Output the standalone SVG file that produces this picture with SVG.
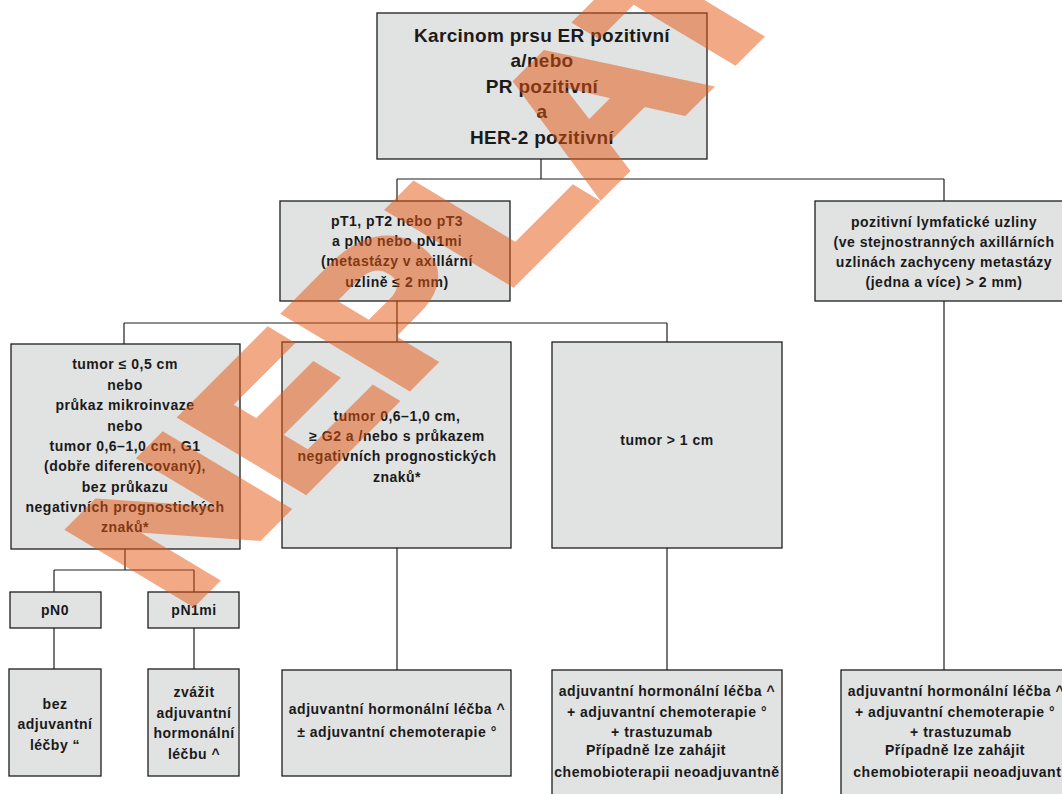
<svg xmlns="http://www.w3.org/2000/svg" width="1062" height="794" viewBox="0 0 1062 794">
<style>
.box{fill:#e1e2e2;stroke:#1e1e1e;stroke-width:1.3}
.t{font-family:"Liberation Sans",Arial,sans-serif;font-weight:bold;font-size:14px;fill:#1a1a1a;text-anchor:middle;letter-spacing:0.5px}
.h{font-size:19px;letter-spacing:0.3px}
.c{fill:none;stroke:#1e1e1e;stroke-width:1.2}
.wm{font-family:"Liberation Sans",Arial,sans-serif;font-weight:bold;fill:#e5550f;stroke:#e5550f;stroke-width:9;stroke-linejoin:miter;opacity:0.5}
</style>
<rect width="1062" height="794" fill="#ffffff"/>
<g id="connectors">
<path class="c" d="M541,159V179M397,179H944M397,179V201M944,179V201M397,301V323M124,323H667M124,323V344M397,323V342M667,323V342M125,549V570M54,570H194M54,570V592M194,570V592M54,628V669M194,628V669M397,548V670M667,548V670M944,301V670"/>
</g>
<g id="n-root">
<rect class="box" x="377" y="13" width="330" height="146"/>
<text class="t h" x="542" y="42">Karcinom prsu ER pozitivní</text>
<text class="t h" x="542" y="67">a/nebo</text>
<text class="t h" x="542" y="93">PR pozitivní</text>
<text class="t h" x="542" y="118">a</text>
<text class="t h" x="542" y="144">HER-2 pozitivní</text>
</g>
<g id="n-pt">
<rect class="box" x="280" y="201" width="230" height="100"/>
<text class="t" x="397" y="226">pT1, pT2 nebo pT3</text>
<text class="t" x="397" y="246">a pN0 nebo pN1mi</text>
<text class="t" x="397" y="266">(metastázy v axillární</text>
<text class="t" x="397" y="287">uzlině ≤ 2 mm)</text>
</g>
<g id="n-lymf">
<rect class="box" x="815" y="201" width="258" height="100"/>
<text class="t" x="944" y="227">pozitivní lymfatické uzliny</text>
<text class="t" x="944" y="247">(ve stejnostranných axillárních</text>
<text class="t" x="944" y="267">uzlinách zachyceny metastázy</text>
<text class="t" x="944" y="287">(jedna a více) &gt; 2 mm)</text>
</g>
<g id="n-small">
<rect class="box" x="11" y="344" width="229" height="205"/>
<text class="t" x="125" y="369">tumor ≤ 0,5 cm</text>
<text class="t" x="125" y="389.5">nebo</text>
<text class="t" x="125" y="410">průkaz mikroinvaze</text>
<text class="t" x="125" y="430.5">nebo</text>
<text class="t" x="125" y="451">tumor 0,6–1,0 cm, G1</text>
<text class="t" x="125" y="471">(dobře diferencovaný),</text>
<text class="t" x="125" y="491.5">bez průkazu</text>
<text class="t" x="125" y="512">negativních prognostických</text>
<text class="t" x="125" y="532">znaků*</text>
</g>
<g id="n-mid">
<rect class="box" x="282" y="342" width="229" height="206"/>
<text class="t" x="397" y="421">tumor 0,6–1,0 cm,</text>
<text class="t" x="397" y="441">≥ G2 a /nebo s průkazem</text>
<text class="t" x="397" y="461">negativních prognostických</text>
<text class="t" x="397" y="482">znaků*</text>
</g>
<g id="n-big">
<rect class="box" x="552" y="342" width="230" height="206"/>
<text class="t" x="667" y="445">tumor &gt; 1 cm</text>
</g>
<g id="n-pn0">
<rect class="box" x="10" y="592" width="91" height="36"/>
<text class="t" x="55" y="615">pN0</text>
</g>
<g id="n-pn1mi">
<rect class="box" x="148" y="592" width="91" height="36"/>
<text class="t" x="194" y="615">pN1mi</text>
</g>
<g id="n-bez">
<rect class="box" x="9" y="669" width="92" height="107"/>
<text class="t" x="55" y="709">bez</text>
<text class="t" x="55" y="729">adjuvantní</text>
<text class="t" x="55" y="750">léčby “</text>
</g>
<g id="n-zvazit">
<rect class="box" x="148" y="669" width="91" height="107"/>
<text class="t" x="194" y="697">zvážit</text>
<text class="t" x="194" y="718">adjuvantní</text>
<text class="t" x="194" y="738">hormonální</text>
<text class="t" x="194" y="759">léčbu ^</text>
</g>
<g id="n-adj2">
<rect class="box" x="282" y="670" width="229" height="106"/>
<text class="t" x="397" y="714">adjuvantní hormonální léčba ^</text>
<text class="t" x="397" y="737">± adjuvantní chemoterapie °</text>
</g>
<g id="n-adj3">
<rect class="box" x="552" y="670" width="230" height="140"/>
<text class="t" x="667" y="696">adjuvantní hormonální léčba ^</text>
<text class="t" x="667" y="717">+ adjuvantní chemoterapie °</text>
<text class="t" x="662" y="737">+ trastuzumab</text>
<text class="t" x="656" y="755">Případně lze zahájit</text>
<text class="t" x="667" y="777">chemobioterapii neoadjuvantně</text>
</g>
<g id="n-adj4">
<rect class="box" x="841" y="670" width="250" height="140"/>
<text class="t" x="956" y="696">adjuvantní hormonální léčba ^</text>
<text class="t" x="955" y="717">+ adjuvantní chemoterapie °</text>
<text class="t" x="961" y="737">+ trastuzumab</text>
<text class="t" x="955" y="755">Případně lze zahájit</text>
<text class="t" x="966" y="777">chemobioterapii neoadjuvantně</text>
</g>
<g id="watermark">
<text class="wm" font-size="200" transform="translate(183,612) rotate(-45) skewX(14) scale(1.1,1)">NEPLATNÉ</text>
</g>
</svg>
